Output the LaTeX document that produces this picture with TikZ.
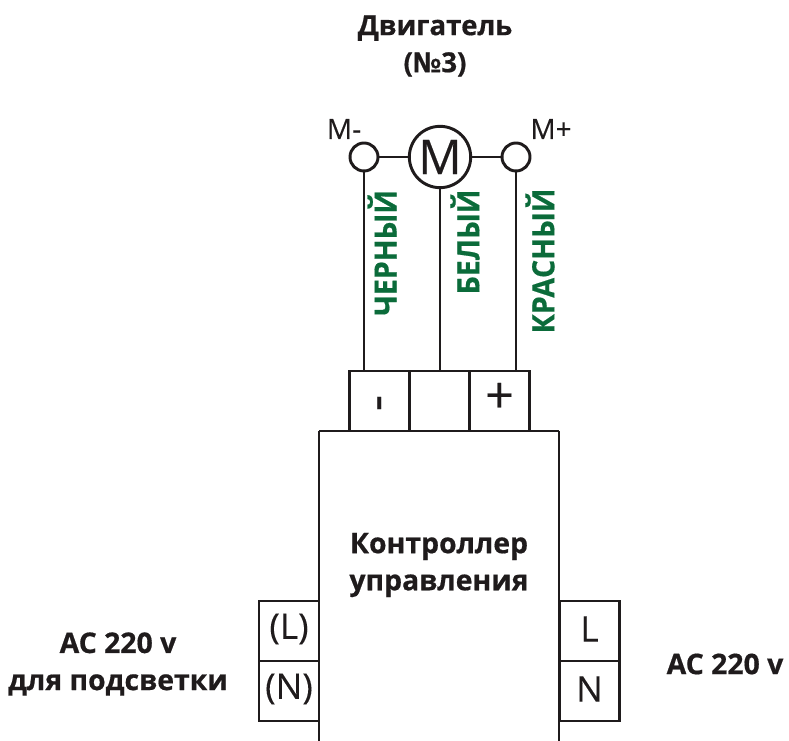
\documentclass[tikz,border=0pt]{standalone}
\usepackage{fontspec}
\setmainfont{Open Sans}[UprightFeatures={FakeBold=0.25},BoldFeatures={FakeBold=0.6}]
\definecolor{wirelabel}{HTML}{0B6B3A}
\definecolor{ink}{HTML}{1F1B1C}
\tikzset{
 wire/.style={line width=2.2pt,draw=ink},
 boxs/.style={draw=ink,line width=2.2pt,fill=white,minimum width=45pt,minimum height=45pt,inner sep=0pt,anchor=center,text=ink},
 term/.style={circle,draw=ink,line width=2.2pt,fill=white,minimum size=21pt,inner sep=0pt},
 lab/.style={font=\bfseries\fontsize{21.3}{27.8}\selectfont,text=ink,align=center},
 wl/.style={font=\bfseries\fontsize{23}{26}\selectfont,text=wirelabel,rotate=90,xscale=0.93},
 sm/.style={font=\fontsize{21}{24}\selectfont,text=ink},
 bigt/.style={font=\fontsize{26.5}{30}\selectfont,text=ink},
}
\begin{document}
\begin{tikzpicture}[x=0.75pt,y=-0.75pt]
\useasboundingbox (0,0) rectangle (789,741);
\node[lab,font=\bfseries\fontsize{20.7}{27.8}\selectfont] (title) at (435,46) {Двигатель\\(№3)};
\coordinate (cl) at (319,741);
\coordinate (cr) at (559,741);
\coordinate (ctl) at (319,431);
\coordinate (ctr) at (559,431);
\node[term] (mm) at (364,157) {};
\node[term] (mp) at (516,157) {};
\node[circle,draw=ink,line width=2.2pt,fill=white,minimum size=46pt,inner sep=0pt,font=\fontsize{36}{40}\selectfont,text=ink] (m) at (440,157) {M};
\draw[wire] (mm) -- (m);
\draw[wire] (m) -- (mp);
\node[boxs] (t1) at (379.5,401) {};
\node[boxs] (t2) at (439.5,401) {};
\node[boxs] (t3) at (499.5,401) {};
\node[font=\fontsize{38}{40}\selectfont,text=ink,rotate=90] (minus) at (385,403) {-};
\node[font=\fontsize{38}{40}\selectfont,text=ink] (plus) at (499.5,398) {+};
\draw[wire] (mm) -- (mm |- t1.north);
\draw[wire] (m) -- (m |- t2.north);
\draw[wire] (mp) -- (mp |- t3.north);
\draw[wire] (ctl) -- (ctr);
\draw[wire] (ctl) -- (cl);
\draw[wire] (ctr) -- (cr);
\node[boxs] (l1) at (289,631) {};
\node[boxs] (l2) at (289,691) {};
\node[boxs] (r1) at (589.5,631) {};
\node[boxs] (r2) at (589.5,691) {};
\node[bigt] (tl) at (289,629) {(L)};
\node[bigt] (tn) at (289,689) {(N)};
\node[bigt] (rl) at (589.5,629) {L};
\node[bigt] (rn) at (589.5,689) {N};
\node[sm] (mml) at (344,129) {M-};
\node[sm] (mpl) at (551,129) {M+};
\node[wl] (w1) at (382,253) {ЧЕРНЫЙ};
\node[wl] (w2) at (465,242) {БЕЛЫЙ};
\node[wl] (w3) at (540,261) {КРАСНЫЙ};
\node[lab] (ctrl) at (439,565) {Контроллер\\управления};
\node[lab] (acl) at (118,664) {AC 220 v\\для подсветки};
\node[lab] (acr) at (725,664) {AC 220 v};
\end{tikzpicture}
\end{document}
